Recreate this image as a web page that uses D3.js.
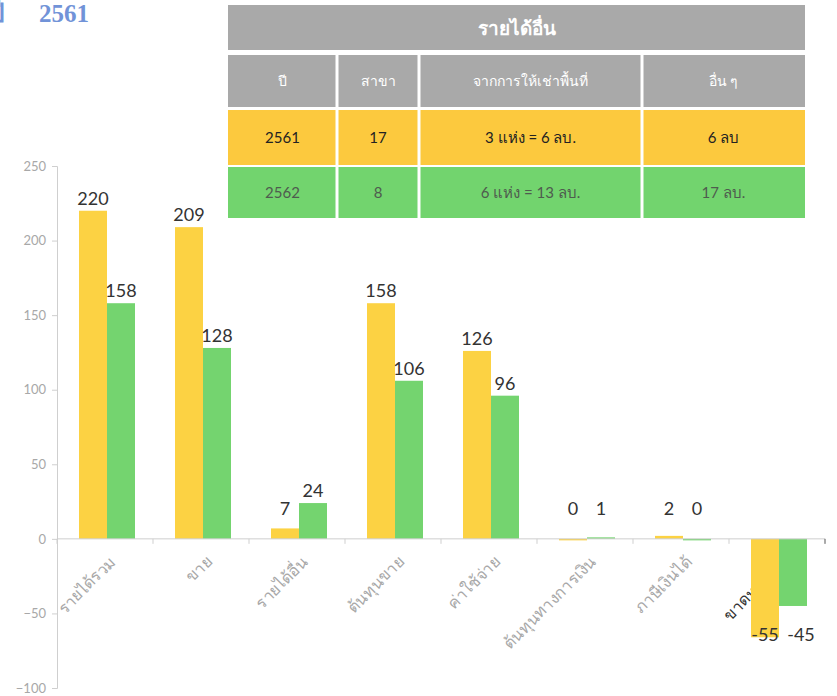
<!DOCTYPE html>
<html>
<head>
<meta charset="utf-8">
<script src="https://cdn.jsdelivr.net/npm/d3@7"></script>
<style>
  body { margin: 0; background: #fff; }
  svg { display: block; }
</style>
</head>
<body>
<div id="chart"></div>
<script>
// data
var categories = ["รายได้รวม", "ขาย", "รายได้อื่น", "ต้นทุนขาย", "ค่าใช้จ่าย", "ต้นทุนทางการเงิน", "ภาษีเงินได้", "ขาดทุนสุทธิ"];
var series = ["2561", "2562"];
var values2561 = [220, 209, 7, 158, 126, 0, 2, -66];   // bar lengths as drawn
var values2562 = [158, 128, 24, 106, 96, 1, 0, -45];
var labels2561 = ["220", "209", "7", "158", "126", "0", "2", "-55"];  // printed labels
var labels2562 = ["158", "128", "24", "106", "96", "1", "0", "-45"];
var yTicks = [-100, -50, 0, 50, 100, 150, 200, 250];

// the table in the corner
var tableTitle = "รายได้อื่น";
var tableHeads = ["ปี", "สาขา", "จากการให้เช่าพื้นที่", "อื่น ๆ"];
var tableRow2561 = ["2561", "17", "3 แห่ง =  6 ลบ.", "6 ลบ"];
var tableRow2562 = ["2562", "8", "6 แห่ง = 13 ลบ.", "17 ลบ."];

var W = 837, H = 696;
var colors = { "2561": "#fcd243", "2562": "#74d46f" };
var font = "Lato, 'Noto Sans', sans-serif";

var svg = d3.select("#chart").append("svg")
    .attr("width", W)
    .attr("height", H);

// scales
var y = d3.scaleLinear().domain([-100, 250]).range([688, 166]);
var x0 = d3.scaleBand().domain(categories).range([57, 825]).padding(0);
var x1 = d3.scaleBand().domain(series).range([22, 78]).padding(0);

// title, cut off on the left like the original
svg.append("text")
    .attr("x", 5).attr("y", 22)
    .attr("text-anchor", "end")
    .attr("font-family", "'Liberation Serif', serif")
    .attr("font-weight", "bold")
    .attr("font-size", 26)
    .attr("fill", "#7193d8")
    .text("ปี");
svg.append("text")
    .attr("x", 39).attr("y", 22)
    .attr("font-family", "'Liberation Serif', serif")
    .attr("font-weight", "bold")
    .attr("font-size", 25)
    .attr("fill", "#7193d8")
    .text("2561");

// y axis
var yAxis = svg.append("g")
    .attr("transform", "translate(57,0)")
    .call(d3.axisLeft(y).tickValues(yTicks).tickSize(5).tickPadding(6));
yAxis.select(".domain").attr("stroke", "#cfcfcf");
yAxis.selectAll(".tick line").attr("stroke", "#cfcfcf");
yAxis.selectAll(".tick text")
    .attr("fill", "#a8a8a8")
    .attr("font-family", font)
    .attr("font-size", 13);

// category labels, drawn before the bars so the last one sits behind
var rows = categories.map(function(c, i) {
  return { cat: c, vals: [
    { s: "2561", v: values2561[i], label: labels2561[i] },
    { s: "2562", v: values2562[i], label: labels2562[i] }
  ]};
});

svg.append("g").selectAll("text")
  .data(categories)
  .enter().append("text")
    .attr("transform", function(d) {
      return "translate(" + (x0(d) + x0.bandwidth() / 2 + 12) + "," + (y(0) + 24) + ") rotate(-45)";
    })
    .attr("text-anchor", "end")
    .attr("font-family", font)
    .attr("font-size", 16)
    .attr("fill", function(d, i) { return i == categories.length - 1 ? "#333" : "#a8a8a8"; })
    .text(function(d) { return d; });

// bars
var groups = svg.append("g").selectAll("g")
  .data(rows)
  .enter().append("g")
    .attr("transform", function(d) { return "translate(" + x0(d.cat) + ",0)"; });

groups.selectAll("rect")
  .data(function(d) { return d.vals; })
  .enter().append("rect")
    .attr("x", function(d) { return x1(d.s); })
    .attr("width", x1.bandwidth())
    .attr("y", function(d) { return y(Math.max(0, d.v)); })
    .attr("height", function(d) { return Math.max(Math.abs(y(d.v) - y(0)), 1.5); })
    .attr("fill", function(d) { return colors[d.s]; });

// x axis line with ticks between groups
var xAxis = svg.append("g");
xAxis.append("line")
    .attr("x1", 57).attr("x2", 825)
    .attr("y1", y(0)).attr("y2", y(0))
    .attr("stroke", "#cfcfcf");
xAxis.selectAll(".xt")
  .data(categories.concat(["end"]))
  .enter().append("line")
    .attr("class", "xt")
    .attr("x1", function(d, i) { return i < categories.length ? x0(d) : x0.range()[1]; })
    .attr("x2", function(d, i) { return i < categories.length ? x0(d) : x0.range()[1]; })
    .attr("y1", y(0)).attr("y2", y(0) + 5)
    .attr("stroke", function(d, i) { return i < categories.length ? "#cfcfcf" : "#555"; });

// value labels
groups.selectAll(".vl")
  .data(function(d) { return d.vals; })
  .enter().append("text")
    .attr("class", "vl")
    .attr("x", function(d) {
      var shift = (+d.label < 0 && d.s == "2562") ? 8 : 0;
      return x1(d.s) + x1.bandwidth() / 2 + shift;
    })
    .attr("y", function(d) {
      var lv = +d.label;
      if (lv < 0) return y(-50) + 28;
      return Math.min(y(lv), y(12)) - 6;
    })
    .attr("text-anchor", "middle")
    .attr("font-family", font)
    .attr("font-size", 18)
    .attr("fill", "#333")
    .text(function(d) { return d.label; });

// table
var colX = [228, 337, 419, 642, 805];
var tbl = svg.append("g");

tbl.append("rect")
    .attr("x", colX[0]).attr("y", 5)
    .attr("width", colX[4] - colX[0]).attr("height", 45)
    .attr("fill", "#a9a9a9");
tbl.append("text")
    .attr("x", (colX[0] + colX[4]) / 2).attr("y", 35)
    .attr("text-anchor", "middle")
    .attr("font-family", font)
    .attr("font-weight", "bold")
    .attr("font-size", 19)
    .attr("fill", "#fff")
    .text(tableTitle);

var tableRows = [
  { cells: tableHeads, top: 55, h: 52, fill: "#a9a9a9", color: "#fff", size: 14 },
  { cells: tableRow2561, top: 110, h: 55, fill: "#fcc93e", color: "#222", size: 15 },
  { cells: tableRow2562, top: 167, h: 51, fill: "#72d46e", color: "#4f5b4f", size: 15 }
];

tableRows.forEach(function(r) {
  var g = tbl.append("g");
  g.selectAll("rect")
    .data(r.cells)
    .enter().append("rect")
      .attr("x", function(d, i) { return colX[i] + (i ? 1.5 : 0); })
      .attr("y", r.top)
      .attr("width", function(d, i) { return colX[i + 1] - colX[i] - (i ? 1.5 : 0) - (i < 3 ? 1.5 : 0); })
      .attr("height", r.h)
      .attr("fill", r.fill);
  g.selectAll("text")
    .data(r.cells)
    .enter().append("text")
      .attr("x", function(d, i) { return (colX[i] + colX[i + 1]) / 2; })
      .attr("y", r.top + r.h / 2 + 5)
      .attr("text-anchor", "middle")
      .attr("font-family", font)
      .attr("font-size", r.size)
      .attr("fill", r.color)
      .text(function(d) { return d; });
});
</script>
</body>
</html>
